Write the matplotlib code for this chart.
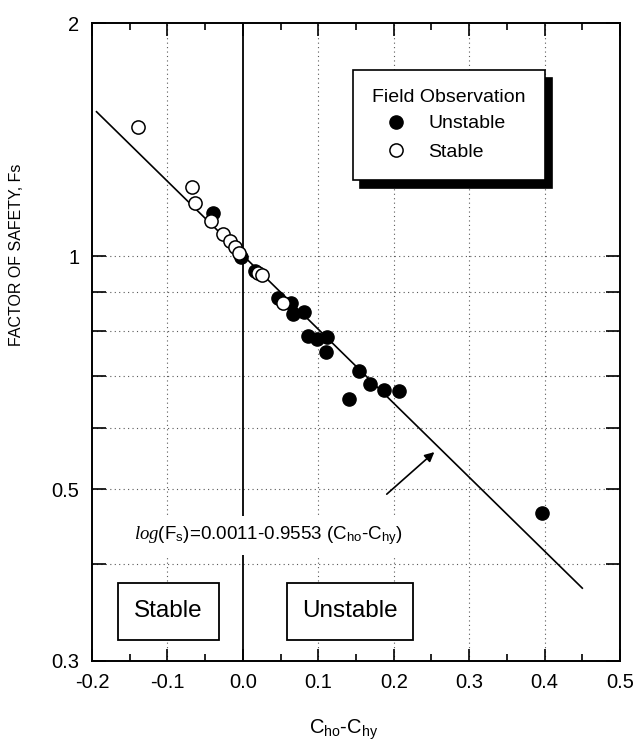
import numpy as np
import matplotlib
matplotlib.use("Agg")
import matplotlib.pyplot as plt
from matplotlib.ticker import FixedLocator, FixedFormatter, MultipleLocator, NullLocator
from matplotlib.patches import Rectangle

plt.rcParams['font.family'] = ['Liberation Sans', 'DejaVu Sans']
plt.rcParams['mathtext.fontset'] = 'custom'
plt.rcParams['mathtext.rm'] = 'Liberation Sans'
plt.rcParams['mathtext.it'] = 'Liberation Serif:italic'

unstable_x = [-0.039, -0.002, 0.016, 0.047, 0.064, 0.067, 0.081, 0.087, 0.098,
              0.112, 0.110, 0.141, 0.154, 0.168, 0.187, 0.207, 0.396]
unstable_fs = [1.137, 0.997, 0.956, 0.882, 0.870, 0.843, 0.848, 0.789, 0.782,
               0.786, 0.752, 0.653, 0.710, 0.683, 0.671, 0.669, 0.466]
stable_x = [-0.139, -0.067, -0.064, -0.042, -0.026, -0.017, -0.011, -0.005,
            0.020, 0.025, 0.053]
stable_fs = [1.467, 1.227, 1.170, 1.110, 1.068, 1.045, 1.028, 1.008,
             0.952, 0.946, 0.869]

# regression log(Fs) = a + b (Cho - Chy)
a, b = 0.0011, -0.9553
fit_x = np.array([-0.194, 0.45])
fit_y = 10 ** (a + b * fit_x)

fig = plt.figure(figsize=(6.39, 7.45), dpi=100)
ax = fig.add_axes([92/639, 1-661/745, 528/639, 638/745])
ax.set_yscale('log')
ax.set_xlim(-0.2, 0.5)
ax.set_ylim(0.3, 2)

# grid
for gx in [-0.1, 0.1, 0.2, 0.3, 0.4]:
    ax.axvline(gx, color='0.35', ls=(0, (1, 3)), lw=0.8, zorder=1)
for gy in [0.4, 0.5, 0.6, 0.7, 0.8, 0.9, 1.0]:
    ax.axhline(gy, color='0.35', ls=(0, (1, 3)), lw=0.8, zorder=1)
ax.axvline(0.0, color='k', lw=1.3, zorder=2)

ax.plot(fit_x, fit_y, 'k-', lw=1.2, zorder=3)
ax.plot(unstable_x, unstable_fs, 'o', color='k', ms=9.5, ls='none',
        label='Unstable', zorder=4)
ax.plot(stable_x, stable_fs, 'o', mfc='white', mec='k', mew=1.1, ms=9.5,
        ls='none', label='Stable', zorder=5)

# ticks
yt = [0.3, 0.4, 0.5, 0.6, 0.7, 0.8, 0.9, 1.0, 2.0]
ylab = ['0.3', '', '0.5', '', '', '', '', '1', '2']
ax.yaxis.set_major_locator(FixedLocator(yt))
ax.yaxis.set_major_formatter(FixedFormatter(ylab))
ax.yaxis.set_minor_locator(NullLocator())
ax.xaxis.set_major_locator(MultipleLocator(0.1))
ax.xaxis.set_minor_locator(MultipleLocator(0.05))
ax.xaxis.set_major_formatter(plt.FuncFormatter(lambda v, p: f'{v:.1f}'))
ax.tick_params(which='both', direction='in', top=True, right=True,
               labelsize=14.5, width=1.2)
ax.tick_params(axis='x', which='major', length=9, pad=9)
ax.tick_params(axis='x', which='minor', length=5)
ax.tick_params(axis='y', which='major', length=10, pad=9)
for s in ax.spines.values():
    s.set_linewidth(1.4)

# equation and arrow
ax.text(0.034, 0.436, r'$\mathit{log}$(F$_{\mathrm{s}}$)=0.0011-0.9553 (C$_{\mathrm{ho}}$-C$_{\mathrm{hy}}$)',
        ha='center', va='center', fontsize=13.5, zorder=6,
        bbox=dict(facecolor='white', edgecolor='none', pad=6))
ax.annotate('', xy=(0.2566, 0.5614), xytext=(0.188, 0.490),
            arrowprops=dict(arrowstyle='-|>', color='k', lw=1.2, mutation_scale=14))

# region boxes
for x0, x1, txt in [(0.049, 0.2405, 'Stable'), (0.369, 0.608, 'Unstable')]:
    ax.add_patch(Rectangle((x0, 0.033), x1 - x0, 0.089, transform=ax.transAxes,
                           facecolor='white', edgecolor='k', lw=1.3, zorder=6))
    ax.text((x0 + x1) / 2, 0.078, txt, transform=ax.transAxes, ha='center',
            va='center', fontsize=17.5, zorder=7)

leg = ax.legend(title='Field Observation', loc='upper left',
                bbox_to_anchor=(0.494, 0.9263), borderaxespad=0,
                fontsize=14, title_fontsize=14,
                frameon=True, fancybox=False, edgecolor='k', framealpha=1,
                handlelength=2.47, handletextpad=0.41, borderpad=1.0,
                labelspacing=0.55, alignment='left',
                shadow={'color': 'black', 'alpha': 1, 'ox': 5, 'oy': -6})
leg.get_frame().set_linewidth(1.2)
leg.set_zorder(8)
leg._legend_box.sep = 6

fig.text(344/639, 1-730/745, r'C$_{\mathrm{ho}}$-C$_{\mathrm{hy}}$', ha='center',
         va='center', fontsize=14.5)
fig.text(17/639, 1-255/745, 'FACTOR OF SAFETY, Fs', rotation=90, ha='center',
         va='center', fontsize=11.5)

fig.savefig('out.png', dpi=100)
